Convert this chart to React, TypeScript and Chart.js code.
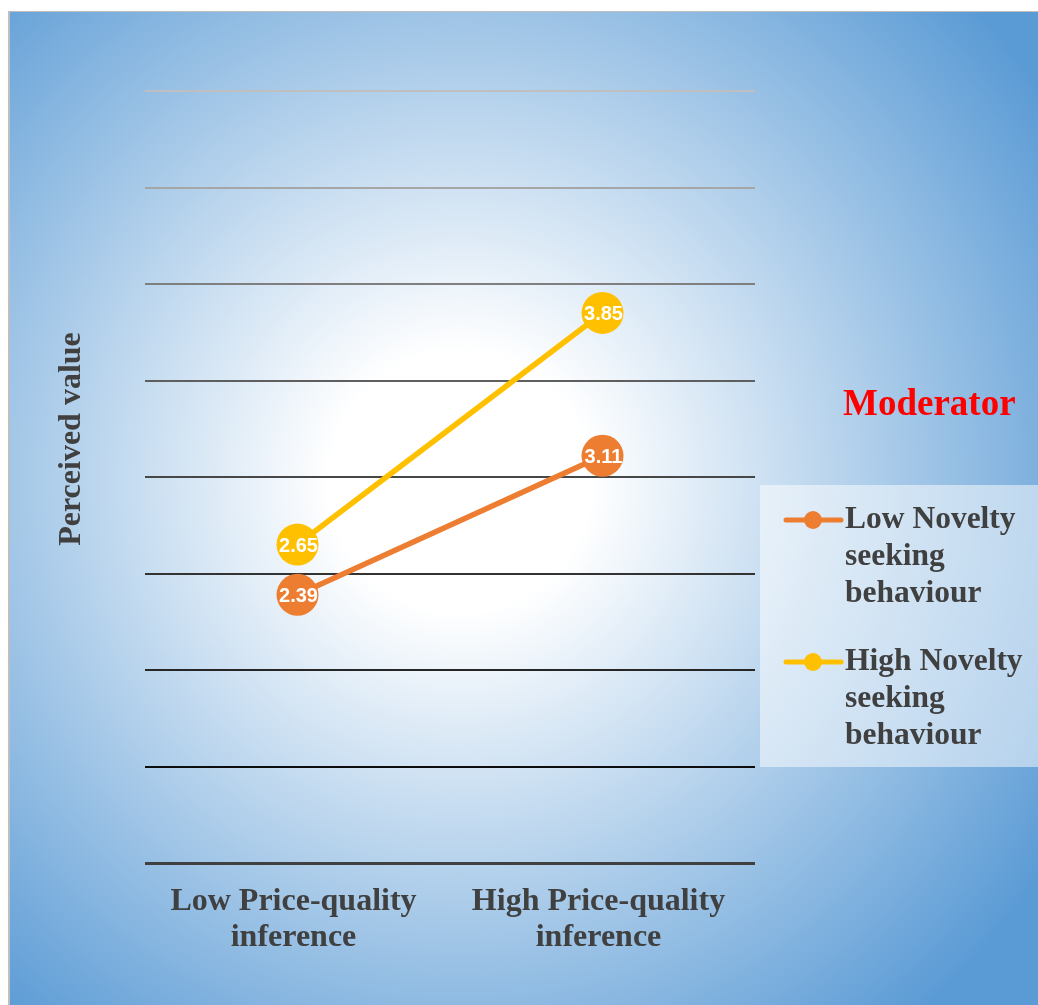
import React, { useEffect, useRef } from "react";
import { Chart, registerables } from "chart.js";

Chart.register(...registerables);

const categories: string[][] = [
  ["Low Price-quality", "inference"],
  ["High Price-quality", "inference"],
];
const lowNovelty: number[] = [2.39, 3.11];
const highNovelty: number[] = [2.65, 3.85];
const seriesNames: string[][] = [
  ["Low Novelty", "seeking", "behaviour"],
  ["High Novelty", "seeking", "behaviour"],
];
const seriesColors: string[] = ["#ED7D31", "#FFC000"];
const yTitle = "Perceived value";
const legendTitle = "Moderator";
const yMin = 1;
const yMax = 5;
const yStep = 0.5;
const gridColors: string[] = ["#404040", "#0d0d0d", "#262626", "#333333", "#474747", "#5f5f5f", "#7f7f7f", "#a6a6a6", "#bfbfbf"];
const gridWidths: number[] = [3, 2, 2, 2, 2, 2, 2, 2, 2];

const SERIF = "'Liberation Serif', 'Times New Roman', serif";
const TEXT = "#404040";

const overlayPlugin = {
  id: "overlay",
  afterDatasetsDraw(chart: any) {
    const ctx = chart.ctx;
    ctx.save();
    chart.data.datasets.forEach((ds: any, di: number) => {
      const meta = chart.getDatasetMeta(di);
      meta.data.forEach((pt: any, i: number) => {
        ctx.fillStyle = "#ffffff";
        ctx.font = "bold 20px 'Liberation Sans', Arial, sans-serif";
        ctx.textAlign = "center";
        ctx.textBaseline = "middle";
        ctx.fillText(ds.data[i].toFixed(2), pt.x + 1, pt.y + 2);
      });
    });
    ctx.restore();
  },
  afterDraw(chart: any) {
    const ctx = chart.ctx;
    const xScale = chart.scales.x;
    ctx.save();
    ctx.fillStyle = TEXT;
    ctx.font = `bold 32px ${SERIF}`;
    ctx.textAlign = "center";
    ctx.textBaseline = "middle";
    categories.forEach((lines, i) => {
      const x = xScale.getPixelForValue(i);
      lines.forEach((ln, j) => ctx.fillText(ln, x - 4, 890 + j * 36));
    });
    ctx.save();
    ctx.translate(62, 427);
    ctx.rotate(-Math.PI / 2);
    ctx.font = `bold 32px ${SERIF}`;
    ctx.fillText(yTitle, 0, 0);
    ctx.restore();
    ctx.fillStyle = "rgba(255,255,255,0.5)";
    ctx.fillRect(750, 473, 280, 282);
    ctx.fillStyle = "#FF0000";
    ctx.font = `bold 37px ${SERIF}`;
    ctx.textAlign = "left";
    ctx.fillText(legendTitle, 833, 393);
    const starts = [508, 650];
    seriesNames.forEach((lines, i) => {
      const y0 = starts[i];
      ctx.strokeStyle = seriesColors[i];
      ctx.lineWidth = 5;
      ctx.lineCap = "round";
      ctx.beginPath();
      ctx.moveTo(776, y0);
      ctx.lineTo(831, y0);
      ctx.stroke();
      ctx.fillStyle = seriesColors[i];
      ctx.beginPath();
      ctx.arc(803, y0, 9, 0, Math.PI * 2);
      ctx.fill();
      ctx.fillStyle = TEXT;
      ctx.font = `bold 31.5px ${SERIF}`;
      ctx.textAlign = "left";
      lines.forEach((ln, j) => ctx.fillText(ln, 835, y0 + j * 37));
    });
    ctx.restore();
  },
};

export default function App() {
  const ref = useRef<HTMLCanvasElement | null>(null);
  useEffect(() => {
    if (!ref.current) return;
    const chart = new Chart(ref.current, {
      type: "line",
      data: {
        labels: categories.map((c) => c.join(" ")),
        datasets: [
          {
            label: seriesNames[0].join(" "),
            data: lowNovelty,
            borderColor: seriesColors[0],
            backgroundColor: seriesColors[0],
            pointBackgroundColor: seriesColors[0],
            borderWidth: 5.5,
            pointRadius: 21,
            pointBorderWidth: 0,
            clip: false as any,
          },
          {
            label: seriesNames[1].join(" "),
            data: highNovelty,
            borderColor: seriesColors[1],
            backgroundColor: seriesColors[1],
            pointBackgroundColor: seriesColors[1],
            borderWidth: 5.5,
            pointRadius: 21,
            pointBorderWidth: 0,
            clip: false as any,
          },
        ],
      },
      options: {
        animation: false,
        responsive: false,
        maintainAspectRatio: false,
        layout: { padding: { left: 135, right: 283, top: 79, bottom: 142 } },
        plugins: { legend: { display: false }, tooltip: { enabled: false } },
        scales: {
          x: {
            offset: true,
            grid: { display: false, drawTicks: false },
            border: { display: false },
            ticks: { display: false },
          },
          y: {
            min: yMin,
            max: yMax,
            ticks: { display: false, stepSize: yStep },
            grid: {
              drawTicks: false,
              color: (c: any) => gridColors[c.index] ?? "#808080",
              lineWidth: (c: any) => gridWidths[c.index] ?? 2,
            },
            border: { display: false },
          },
        },
      },
      plugins: [overlayPlugin],
    });
    return () => chart.destroy();
  }, []);
  return (
    <div
      style={{
        position: "fixed",
        left: 8,
        top: 11,
        width: 1030,
        height: 994,
        boxSizing: "border-box",
        borderLeft: "2px solid #bfbfbf",
        borderTop: "1px solid #bfbfbf",
        background:
          "radial-gradient(circle 700px at 450px 470px, #ffffff 0px, #ffffff 130px, #5b9bd5 700px)",
        overflow: "hidden",
      }}
    >
      <canvas ref={ref} width={1028} height={993} style={{ position: "absolute", left: 0, top: 0, width: 1028, height: 993 }} />
    </div>
  );
}
